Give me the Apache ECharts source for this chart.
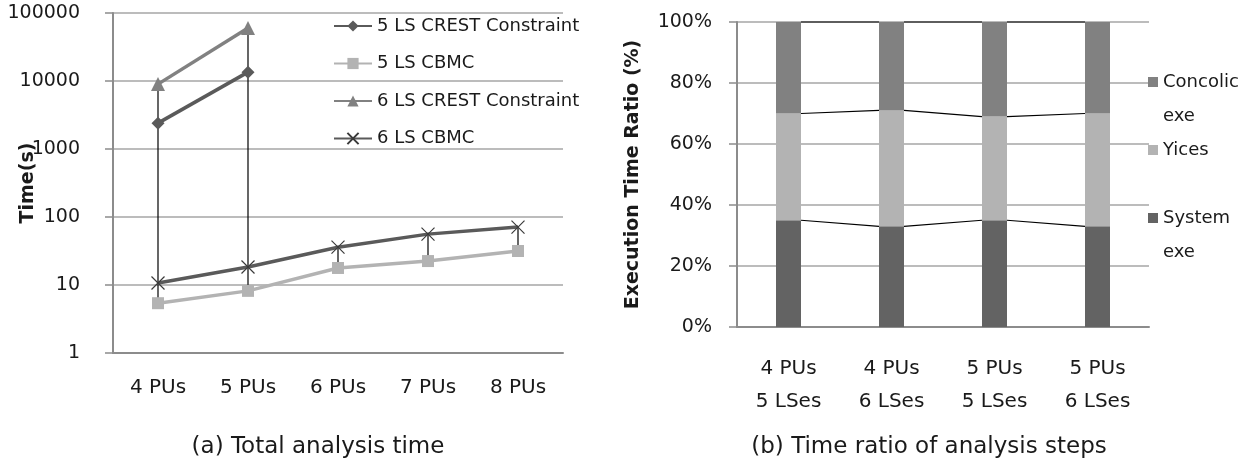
<!DOCTYPE html>
<html><head><meta charset="utf-8">
<script src="https://cdn.jsdelivr.net/npm/echarts@6/dist/echarts.min.js"></script>
<style>html,body{margin:0;padding:0;background:#fff}#c{width:1258px;height:469px}</style>
</head><body><div id="c"></div>
<script>
// ---- data: (a) Total analysis time ----
const puCategories = ['4 PUs', '5 PUs', '6 PUs', '7 PUs', '8 PUs'];
const ls5Crest = [2400, 13500, null, null, null];
const ls5Cbmc = [5.4, 8.2, 17.8, 22.5, 31.6];
const ls6Crest = [9000, 60000, null, null, null];
const ls6Cbmc = [10.7, 18.4, 36, 56, 71];

// ---- data: (b) Time ratio of analysis steps (%) ----
const ratioCategories = ['4 PUs\n5 LSes', '4 PUs\n6 LSes', '5 PUs\n5 LSes', '5 PUs\n6 LSes'];
const systemExe = [35, 33, 35, 33];
const yices = [35, 38, 34, 37];
const concolicExe = [30, 29, 31, 30];

const FONT = 'DejaVu Sans';
const TXT = '#1a1a1a';

// high-low lines from the four series
const allLeft = [ls5Crest, ls5Cbmc, ls6Crest, ls6Cbmc];
const hiLo = puCategories.map((c, i) => {
  const vals = allLeft.map(s => s[i]).filter(v => v != null);
  return [i, Math.max(...vals), Math.min(...vals)];
});

// series lines between stacked bars
const cum1 = systemExe.map((v, i) => v);
const cum2 = systemExe.map((v, i) => v + yices[i]);
const cum3 = systemExe.map((v, i) => v + yices[i] + concolicExe[i]);
const seriesLinesData = [];
[cum1, cum2, cum3].forEach(c => {
  for (let i = 0; i < c.length - 1; i++) seriesLinesData.push([i, c[i], c[i + 1]]);
});

const chart = echarts.init(document.getElementById('c'));
const xPath = 'path://M0,0L10,10M10,0L0,10';

chart.setOption({
  animation: false,
  textStyle: { fontFamily: FONT },
  title: [
    { text: '(a) Total analysis time', left: 318, top: 436, textAlign: 'center', padding: 0,
      textStyle: { fontFamily: FONT, fontSize: 23, fontWeight: 'normal', color: TXT } },
    { text: '(b) Time ratio of analysis steps', left: 929, top: 436, textAlign: 'center', padding: 0,
      textStyle: { fontFamily: FONT, fontSize: 23, fontWeight: 'normal', color: TXT } }
  ],
  legend: [
    {
      data: ['5 LS CREST Constraint', '5 LS CBMC', '6 LS CREST Constraint', '6 LS CBMC'],
      orient: 'vertical', left: 333, top: 16, padding: 0,
      itemWidth: 38, itemHeight: 14, itemGap: 17.5,
      textStyle: { fontFamily: FONT, fontSize: 18, color: TXT, lineHeight: 20 }
    },
    {
      data: ['Concolic exe', 'Yices', 'System exe'],
      orient: 'vertical', left: 1148, top: 31, padding: 0,
      icon: 'rect', itemWidth: 10, itemHeight: 10, itemGap: 0,
      formatter: function (name) {
        if (name === 'Concolic exe') return '\nConcolic\nexe';
        if (name === 'System exe') return '\nSystem\nexe';
        return name;
      },
      textStyle: { fontFamily: FONT, fontSize: 18, color: TXT, lineHeight: 34 }
    }
  ],
  grid: [
    { left: 113, top: 13, width: 450, height: 340, containLabel: false, outerBoundsMode: 'none' },
    { left: 737, top: 22, width: 412, height: 305, containLabel: false, outerBoundsMode: 'none' }
  ],
  xAxis: [
    {
      gridIndex: 0, type: 'category', data: puCategories, boundaryGap: true,
      axisLine: { lineStyle: { color: '#8c8c8c', width: 2 } },
      axisTick: { show: false },
      axisLabel: { color: TXT, fontSize: 20, fontFamily: FONT, margin: 25 }
    },
    {
      gridIndex: 1, type: 'category', data: ratioCategories, boundaryGap: true,
      axisLine: { lineStyle: { color: '#8c8c8c', width: 2 } },
      axisTick: { show: false },
      axisLabel: { color: TXT, fontSize: 20, fontFamily: FONT, margin: 25, lineHeight: 33 }
    }
  ],
  yAxis: [
    {
      gridIndex: 0, type: 'log', logBase: 10, min: 1, max: 100000,
      name: 'Time(s)', nameLocation: 'middle', nameRotate: 90, nameGap: 75, nameMoveOverlap: false,
      nameTextStyle: { fontFamily: FONT, fontSize: 19, fontWeight: 'bold', color: TXT },
      axisLine: { show: true, lineStyle: { color: '#8c8c8c', width: 2 } },
      axisTick: { show: true, length: 8, lineStyle: { color: '#8c8c8c', width: 1.5 } },
      splitLine: { lineStyle: { color: '#a6a6a6', width: 1.5 } },
      axisLabel: { color: TXT, fontSize: 19, fontFamily: FONT, margin: 33,
        formatter: v => String(Math.round(v)) }
    },
    {
      gridIndex: 1, type: 'value', min: 0, max: 100, interval: 20,
      name: 'Execution Time Ratio (%)', nameLocation: 'middle', nameRotate: 90, nameGap: 94, nameMoveOverlap: false,
      nameTextStyle: { fontFamily: FONT, fontSize: 19, fontWeight: 'bold', color: TXT },
      axisLine: { show: true, lineStyle: { color: '#8c8c8c', width: 2 } },
      axisTick: { show: true, length: 8, lineStyle: { color: '#8c8c8c', width: 1.5 } },
      splitLine: { lineStyle: { color: '#a6a6a6', width: 1.5 } },
      axisLabel: { color: TXT, fontSize: 19, fontFamily: FONT, margin: 25, formatter: '{value}%' }
    }
  ],
  series: [
    {
      type: 'custom', xAxisIndex: 0, yAxisIndex: 0, z: 1, silent: true,
      encode: { x: 0, y: [1, 2] }, data: hiLo,
      renderItem: function (params, api) {
        const i = api.value(0);
        const p1 = api.coord([i, api.value(1)]);
        const p2 = api.coord([i, api.value(2)]);
        return { type: 'line', shape: { x1: p1[0], y1: p1[1], x2: p2[0], y2: p2[1] },
          style: { stroke: '#000', lineWidth: 1.2 } };
      }
    },
    { name: '5 LS CREST Constraint', type: 'line', xAxisIndex: 0, yAxisIndex: 0, z: 3,
      data: ls5Crest, symbol: 'diamond', symbolSize: 13,
      lineStyle: { color: '#5a5a5a', width: 3.5 }, itemStyle: { color: '#5a5a5a' } },
    { name: '5 LS CBMC', type: 'line', xAxisIndex: 0, yAxisIndex: 0, z: 3,
      data: ls5Cbmc, symbol: 'rect', symbolSize: 12,
      lineStyle: { color: '#b3b3b3', width: 3.5 }, itemStyle: { color: '#b3b3b3' } },
    { name: '6 LS CREST Constraint', type: 'line', xAxisIndex: 0, yAxisIndex: 0, z: 3,
      data: ls6Crest, symbol: 'triangle', symbolSize: 14,
      lineStyle: { color: '#818181', width: 3.5 }, itemStyle: { color: '#818181' } },
    { name: '6 LS CBMC', type: 'line', xAxisIndex: 0, yAxisIndex: 0, z: 3,
      data: ls6Cbmc, symbol: xPath, symbolSize: 13,
      lineStyle: { color: '#5a5a5a', width: 3.5 },
      itemStyle: { color: 'rgba(0,0,0,0)', borderColor: '#3a3a3a', borderWidth: 1.2 } },

    { name: 'System exe', type: 'bar', xAxisIndex: 1, yAxisIndex: 1, stack: 'r',
      data: systemExe, barWidth: 25, itemStyle: { color: '#636363' } },
    { name: 'Yices', type: 'bar', xAxisIndex: 1, yAxisIndex: 1, stack: 'r',
      data: yices, barWidth: 25, itemStyle: { color: '#b3b3b3' } },
    { name: 'Concolic exe', type: 'bar', xAxisIndex: 1, yAxisIndex: 1, stack: 'r',
      data: concolicExe, barWidth: 25, itemStyle: { color: '#818181' } },
    {
      type: 'custom', xAxisIndex: 1, yAxisIndex: 1, z: 5, silent: true,
      encode: { x: 0, y: [1, 2] }, data: seriesLinesData,
      renderItem: function (params, api) {
        const i = api.value(0);
        const p1 = api.coord([i, api.value(1)]);
        const p2 = api.coord([i + 1, api.value(2)]);
        return { type: 'line', shape: { x1: p1[0] + 12.5, y1: p1[1], x2: p2[0] - 12.5, y2: p2[1] },
          style: { stroke: '#000', lineWidth: 1.2 } };
      }
    }
  ]
});
</script>
</body></html>
